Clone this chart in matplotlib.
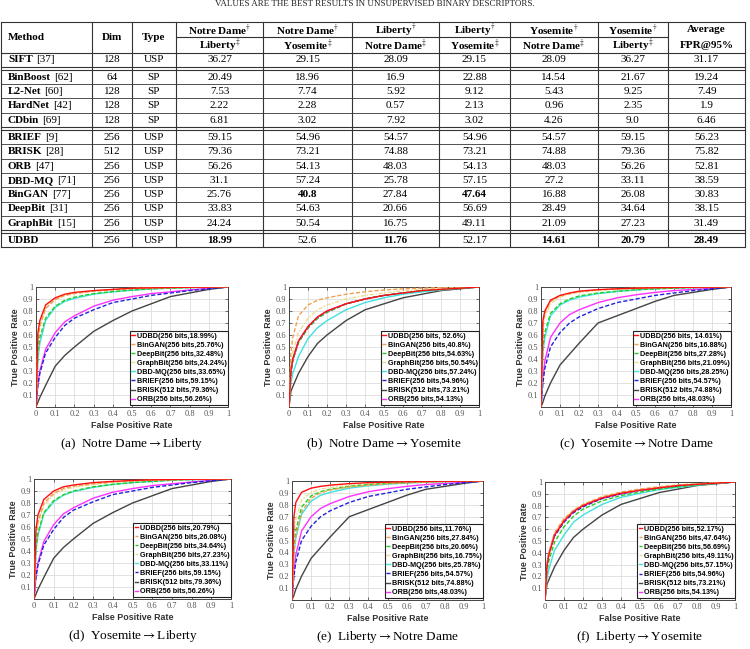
import matplotlib.pyplot as plt
import numpy as np

plt.rcParams['mathtext.fontset'] = 'stix'
SERIF = 'Liberation Serif'
SANS = 'Liberation Sans'

W, H = 750, 649

# ---------------- table data ----------------
methods = ['SIFT', 'BinBoost', 'L2-Net', 'HardNet', 'CDbin', 'BRIEF', 'BRISK',
           'ORB', 'DBD-MQ', 'BinGAN', 'DeepBit', 'GraphBit', 'UDBD']
refs = ['[37]', '[62]', '[60]', '[42]', '[69]', '[9]', '[28]', '[47]', '[71]',
        '[77]', '[31]', '[15]', '']
dims = [128, 64, 128, 128, 128, 256, 512, 256, 256, 256, 256, 256, 256]
types = ['USP', 'SP', 'SP', 'SP', 'SP', 'USP', 'USP', 'USP', 'USP', 'USP',
         'USP', 'USP', 'USP']
col_top = ['Notre Dame', 'Notre Dame', 'Liberty', 'Liberty', 'Yosemite', 'Yosemite']
col_bot = ['Liberty', 'Yosemite', 'Notre Dame', 'Yosemite', 'Notre Dame', 'Liberty']
fpr95 = [
    [36.27, 29.15, 28.09, 29.15, 28.09, 36.27, 31.17],
    [20.49, 18.96, 16.9, 22.88, 14.54, 21.67, 19.24],
    [7.53, 7.74, 5.92, 9.12, 5.43, 9.25, 7.49],
    [2.22, 2.28, 0.57, 2.13, 0.96, 2.35, 1.9],
    [6.81, 3.02, 7.92, 3.02, 4.26, 9.0, 6.46],
    [59.15, 54.96, 54.57, 54.96, 54.57, 59.15, 56.23],
    [79.36, 73.21, 74.88, 73.21, 74.88, 79.36, 75.82],
    [56.26, 54.13, 48.03, 54.13, 48.03, 56.26, 52.81],
    [31.1, 57.24, 25.78, 57.15, 27.2, 33.11, 38.59],
    [25.76, 40.8, 27.84, 47.64, 16.88, 26.08, 30.83],
    [33.83, 54.63, 20.66, 56.69, 28.49, 34.64, 38.15],
    [24.24, 50.54, 16.75, 49.11, 21.09, 27.23, 31.49],
    [18.99, 52.6, 11.76, 52.17, 14.61, 20.79, 28.49],
]
groups = [1, 4, 7, 1]  # rows per block

# ---------------- ROC data ----------------
roc_names = ['UDBD', 'BinGAN', 'DeepBit', 'GraphBit', 'DBD-MQ', 'BRIEF', 'BRISK', 'ORB']
roc_bits = [256, 256, 256, 256, 256, 256, 512, 256]
fpr_grid = [0, 0.01, 0.02, 0.05, 0.1, 0.15, 0.2, 0.3, 0.4, 0.5, 0.6, 0.7, 0.8, 0.9, 1.0]

roc_a = {
    'UDBD':     [0, .62, .72, .85, .91, .94, .955, .97, .98, .99, .993, .996, .998, .999, 1],
    'BinGAN':   [0, .55, .67, .82, .895, .93, .945, .965, .977, .987, .992, .995, .998, .999, 1],
    'DeepBit':  [0, .45, .58, .74, .84, .89, .915, .945, .962, .975, .985, .991, .995, .998, 1],
    'GraphBit': [0, .57, .69, .83, .90, .93, .95, .967, .978, .988, .993, .996, .998, .999, 1],
    'DBD-MQ':   [0, .40, .53, .72, .83, .88, .905, .94, .96, .973, .983, .99, .995, .998, 1],
    'BRIEF':    [0, .18, .28, .45, .58, .68, .74, .81, .87, .90, .93, .95, .97, .985, 1],
    'BRISK':    [0, .04, .08, .18, .34, .43, .50, .63, .72, .80, .86, .92, .95, .98, 1],
    'ORB':      [0, .20, .30, .48, .62, .71, .76, .84, .89, .92, .945, .96, .975, .99, 1],
}
roc_b = {
    'UDBD':     [0, .30, .40, .55, .67, .75, .80, .86, .90, .93, .95, .97, .98, .99, 1],
    'BinGAN':   [0, .45, .58, .76, .85, .89, .91, .94, .96, .975, .985, .99, .995, .998, 1],
    'DeepBit':  [0, .29, .39, .54, .66, .74, .79, .86, .90, .93, .95, .97, .98, .99, 1],
    'GraphBit': [0, .35, .46, .62, .74, .81, .85, .90, .93, .95, .97, .98, .99, .995, 1],
    'DBD-MQ':   [0, .20, .28, .42, .57, .66, .72, .81, .87, .91, .94, .96, .975, .99, 1],
    'BRIEF':    [0, .29, .39, .54, .66, .74, .79, .86, .90, .93, .95, .965, .98, .99, 1],
    'BRISK':    [0, .13, .17, .28, .42, .53, .60, .72, .81, .86, .91, .94, .97, .985, 1],
    'ORB':      [0, .30, .40, .55, .67, .75, .80, .86, .90, .93, .95, .97, .98, .99, 1],
}
roc_c = {
    'UDBD':     [0, .72, .80, .89, .93, .95, .965, .978, .985, .99, .994, .996, .998, .999, 1],
    'BinGAN':   [0, .70, .78, .88, .925, .945, .96, .975, .984, .99, .994, .996, .998, .999, 1],
    'DeepBit':  [0, .50, .62, .78, .86, .90, .925, .95, .965, .977, .985, .99, .995, .998, 1],
    'GraphBit': [0, .66, .75, .86, .915, .94, .955, .972, .982, .988, .993, .996, .998, .999, 1],
    'DBD-MQ':   [0, .45, .58, .76, .85, .89, .915, .945, .962, .975, .985, .99, .995, .998, 1],
    'BRIEF':    [0, .20, .32, .50, .62, .70, .75, .82, .87, .90, .93, .95, .97, .985, 1],
    'BRISK':    [0, .04, .09, .20, .35, .44, .53, .70, .76, .82, .88, .93, .955, .98, 1],
    'ORB':      [0, .25, .38, .58, .70, .77, .81, .87, .91, .935, .955, .97, .98, .99, 1],
}
roc_d = {
    'UDBD':     [0, .58, .70, .83, .90, .935, .95, .97, .98, .988, .993, .996, .998, .999, 1],
    'BinGAN':   [0, .52, .64, .80, .88, .92, .94, .96, .975, .985, .99, .994, .997, .999, 1],
    'DeepBit':  [0, .42, .55, .72, .82, .87, .90, .935, .955, .97, .98, .99, .995, .998, 1],
    'GraphBit': [0, .50, .62, .78, .87, .91, .93, .955, .97, .982, .99, .994, .997, .999, 1],
    'DBD-MQ':   [0, .40, .53, .71, .81, .865, .895, .93, .955, .97, .98, .99, .995, .998, 1],
    'BRIEF':    [0, .18, .28, .45, .58, .68, .74, .81, .87, .90, .93, .95, .97, .985, 1],
    'BRISK':    [0, .04, .08, .18, .34, .43, .50, .63, .72, .80, .86, .92, .95, .98, 1],
    'ORB':      [0, .20, .30, .48, .62, .71, .76, .84, .89, .92, .945, .96, .975, .99, 1],
}
roc_e = {
    'UDBD':     [0, .70, .82, .905, .94, .955, .965, .978, .986, .99, .994, .996, .998, .999, 1],
    'BinGAN':   [0, .40, .53, .74, .855, .90, .925, .95, .965, .977, .985, .99, .995, .998, 1],
    'DeepBit':  [0, .45, .58, .78, .875, .91, .93, .955, .97, .98, .987, .992, .996, .998, 1],
    'GraphBit': [0, .55, .68, .84, .905, .93, .945, .965, .978, .986, .991, .995, .997, .999, 1],
    'DBD-MQ':   [0, .40, .52, .72, .83, .88, .905, .94, .96, .973, .983, .99, .995, .998, 1],
    'BRIEF':    [0, .20, .32, .50, .62, .70, .75, .82, .87, .90, .93, .95, .97, .985, 1],
    'BRISK':    [0, .04, .09, .20, .35, .44, .53, .70, .76, .82, .88, .93, .955, .98, 1],
    'ORB':      [0, .25, .38, .58, .70, .77, .81, .87, .91, .935, .955, .97, .98, .99, 1],
}
roc_f = {
    'UDBD':     [0, .28, .38, .55, .67, .75, .80, .865, .905, .93, .95, .97, .98, .99, 1],
    'BinGAN':   [0, .30, .40, .57, .69, .76, .81, .875, .915, .94, .96, .975, .985, .993, 1],
    'DeepBit':  [0, .24, .33, .49, .62, .71, .77, .84, .885, .915, .94, .96, .975, .99, 1],
    'GraphBit': [0, .29, .39, .56, .68, .76, .81, .87, .91, .935, .955, .972, .983, .992, 1],
    'DBD-MQ':   [0, .18, .26, .42, .55, .66, .72, .81, .87, .905, .935, .955, .972, .988, 1],
    'BRIEF':    [0, .29, .39, .54, .66, .74, .79, .86, .90, .93, .95, .965, .98, .99, 1],
    'BRISK':    [0, .13, .17, .28, .42, .53, .60, .72, .81, .86, .91, .94, .97, .985, 1],
    'ORB':      [0, .30, .40, .55, .67, .75, .80, .86, .90, .93, .95, .97, .98, .99, 1],
}

# legend percentages per panel (same order as roc_names)
leg_a = ['18.99', '25.76', '32.48', '24.24', '33.65', '59.15', '79.36', '56.26']
leg_b = [' 52.6', '40.8', '54.63', '50.54', '57.24', '54.96', '73.21', '54.13']
leg_c = [' 14.61', '16.88', '27.28', '21.09', '28.25', '54.57', '74.88', '48.03']
leg_d = ['20.79', '26.08', '34.64', '27.23', '33.11', '59.15', '79.36', '56.26']
leg_e = ['11.76', '27.84', '20.66', '16.75', '25.78', '54.57', '74.88', '48.03']
leg_f = ['52.17', '47.64', '56.69', '49.11', '57.15', '54.96', '73.21', '54.13']

arrow = r'$\rightarrow$'
captions = ['(a)  Notre Dame' + arrow + 'Liberty', '(b)  Notre Dame' + arrow + 'Yosemite',
            '(c)  Yosemite' + arrow + 'Notre Dame', '(d)  Yosemite' + arrow + 'Liberty',
            '(e)  Liberty' + arrow + 'Notre Dame', '(f)  Liberty' + arrow + 'Yosemite']

styles = {
    'UDBD': ('#ff1010', '-'),
    'BinGAN': ('#f0a050', (0, (3, 1.5))),
    'DeepBit': ('#20d020', (0, (3, 1.5))),
    'GraphBit': ('#eedc90', (0, (3, 1.2, 1, 1.2))),
    'DBD-MQ': ('#40e0e0', '-'),
    'BRIEF': ('#2020e0', (0, (3, 1.5))),
    'BRISK': ('#444444', '-'),
    'ORB': ('#ff30ff', '-'),
}

fig = plt.figure(figsize=(W / 100, H / 100), dpi=100)

# ---------------- table (pixel coords overlay) ----------------
tab = fig.add_axes([0, 0, 1, 1])
tab.set_xlim(0, W)
tab.set_ylim(H, 0)
tab.axis('off')

tab.text(375, 3.5, 'VALUES ARE THE BEST RESULTS IN UNSUPERVISED BINARY DESCRIPTORS.',
         ha='center', va='center', fontsize=6.5, family=SERIF, color='#222')

xcols = [0.5, 92, 132, 176, 263, 352, 439, 510, 598, 668, 745]
lc, lw = '#333333', 0.8
top, hmid, hbot = 22, 37, 52.5
rh = 14.3

tab.plot([xcols[0], xcols[-1]], [top, top], color=lc, lw=lw)
tab.plot([xcols[3], xcols[9]], [hmid, hmid], color=lc, lw=lw)

# row positions, with a double rule between blocks
row_y = []
y = hbot
for gi, n in enumerate(groups):
    if gi > 0:
        tab.plot([xcols[0], xcols[-1]], [y, y], color=lc, lw=lw)
        y += 3
    tab.plot([xcols[0], xcols[-1]], [y, y], color=lc, lw=lw)
    for k in range(n):
        row_y.append(y)
        y += rh
        if k < n - 1:
            tab.plot([xcols[0], xcols[-1]], [y, y], color=lc, lw=0.6)
bottom = y
tab.plot([xcols[0], xcols[-1]], [bottom, bottom], color=lc, lw=lw)
for xc in xcols:
    tab.plot([xc, xc], [top, bottom], color=lc, lw=lw)

fs = 8
hy = (top + hbot) / 2
tab.text(8, hy, 'Method', ha='left', va='center', fontsize=fs, family=SERIF, weight='bold')
tab.text((xcols[1] + xcols[2]) / 2, hy, 'Dim', ha='center', va='center', fontsize=fs,
         family=SERIF, weight='bold')
tab.text((xcols[2] + xcols[3]) / 2, hy, 'Type', ha='center', va='center', fontsize=fs,
         family=SERIF, weight='bold')
for j in range(6):
    cx = (xcols[3 + j] + xcols[4 + j]) / 2
    tab.text(cx, (top + hmid) / 2 + 0.5, col_top[j] + r'$^{\dagger}$', ha='center', va='center',
             fontsize=fs, family=SERIF, weight='bold')
    tab.text(cx, (hmid + hbot) / 2 + 0.5, col_bot[j] + r'$^{\ddagger}$', ha='center', va='center',
             fontsize=fs, family=SERIF, weight='bold')
cx = (xcols[9] + xcols[10]) / 2
tab.text(cx, (top + hmid) / 2 + 0.5, 'Average', ha='center', va='center', fontsize=fs,
         family=SERIF, weight='bold')
tab.text(cx, (hmid + hbot) / 2 + 0.5, 'FPR@95%', ha='center', va='center', fontsize=fs,
         family=SERIF, weight='bold')

# best unsupervised binary result per column (rows from BRIEF on)
vals = np.array(fpr95)
best = vals[5:].min(axis=0)

renderer = fig.canvas.get_renderer()
for i, m in enumerate(methods):
    yc = row_y[i] + rh / 2 + 0.3
    t = tab.text(8, yc, m, ha='left', va='center', fontsize=fs, family=SERIF, weight='bold')
    if refs[i]:
        bb = t.get_window_extent(renderer)
        tab.text(bb.x1 + 3, yc, refs[i], ha='left', va='center', fontsize=fs, family=SERIF)
    tab.text((xcols[1] + xcols[2]) / 2, yc, str(dims[i]), ha='center', va='center',
             fontsize=fs, family=SERIF)
    tab.text((xcols[2] + xcols[3]) / 2, yc, types[i], ha='center', va='center',
             fontsize=fs, family=SERIF)
    for j, v in enumerate(fpr95[i]):
        cx = (xcols[3 + j] + xcols[4 + j]) / 2
        bold = i >= 5 and v == best[j]
        tab.text(cx, yc, str(v), ha='center', va='center', fontsize=fs, family=SERIF,
                 weight='bold' if bold else 'normal')

# ---------------- ROC panels ----------------
panels = [
    (roc_a, leg_a, (36, 287, 228, 407)),
    (roc_b, leg_b, (289, 287, 479, 407)),
    (roc_c, leg_c, (541, 287, 731, 407)),
    (roc_d, leg_d, (34, 479, 231, 599)),
    (roc_e, leg_e, (292, 481, 483, 600)),
    (roc_f, leg_f, (545, 482, 735, 600)),
]

for p, (roc, leg, (x0, y0, x1, y1)) in enumerate(panels):
    ax = fig.add_axes([x0 / W, 1 - y1 / H, (x1 - x0) / W, (y1 - y0) / H])
    for i, name in enumerate(roc_names):
        col, ls = styles[name]
        ax.plot(fpr_grid, roc[name], color=col, ls=ls, lw=1.0, zorder=10 - i,
                label='%s(%d bits,%s%%)' % (name, roc_bits[i], leg[i]))
    ax.set_xlim(0, 1)
    ax.set_ylim(0, 1)
    xt = np.round(np.arange(0, 1.01, 0.1), 1)
    ax.set_xticks(xt)
    ax.set_xticklabels(['0' if v == 0 else '1' if v == 1 else '%.1f' % v for v in xt])
    yt = xt[1:]
    ax.set_yticks(yt)
    ax.set_yticklabels(['1' if v == 1 else '%.1f' % v for v in yt])
    ax.grid(True, color='#dddddd', lw=0.6)
    ax.set_axisbelow(True)
    ax.tick_params(direction='in', length=2, width=0.5, pad=2, colors='#333333',
                   labelsize=6, top=True, right=True)
    for lab in ax.get_xticklabels() + ax.get_yticklabels():
        lab.set_family(SERIF)
        lab.set_color('#555555')
    for s in ax.spines.values():
        s.set_color('#444444')
        s.set_linewidth(0.7)
    ax.set_xlabel('False Positive Rate', family=SANS, weight='bold', fontsize=6.4,
                  labelpad=2, color='#333333')
    ax.set_ylabel('True Positive Rate', family=SANS, weight='bold', fontsize=6.4,
                  labelpad=2, color='#333333')
    lg = ax.legend(loc='lower right', bbox_to_anchor=(1.0, 0.02),
                   prop={'family': SANS, 'weight': 'bold', 'size': 5.2},
                   handlelength=0.5, handletextpad=0.25, borderpad=0.2,
                   labelspacing=0.28, borderaxespad=0.0, fancybox=False,
                   framealpha=1, edgecolor='#222222')
    lg.get_frame().set_linewidth(0.8)
    lg.set_zorder(20)
    fig.text(((x0 + x1) / 2) / W, 1 - (y1 + 37) / H, captions[p], ha='center',
             va='center', family=SERIF, fontsize=9.5)

fig.savefig('out.png', dpi=100)
